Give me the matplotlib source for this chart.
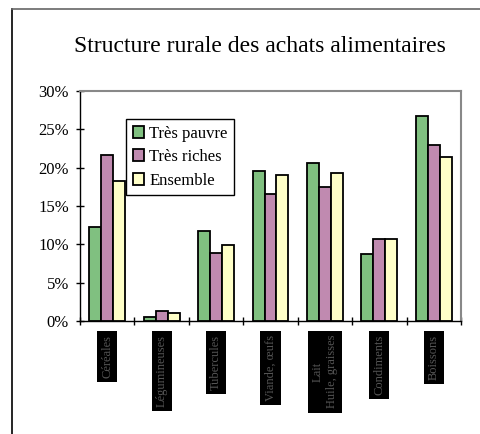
import numpy as np
import matplotlib
matplotlib.use('Agg')
import matplotlib.pyplot as plt
from matplotlib.lines import Line2D

plt.rcParams['font.family'] = ['Liberation Serif', 'DejaVu Serif']

categories = ['Céréales', 'Légumineuses', 'Tubercules', 'Viande, œufs',
              'Lait\nHuile, graisses', 'Condiments', 'Boissons']
tres_pauvre = [12.3, 0.5, 11.7, 19.6, 20.6, 8.7, 26.8]
tres_riches = [21.6, 1.3, 8.9, 16.6, 17.5, 10.7, 22.9]
ensemble = [18.2, 1.0, 9.9, 19.0, 19.3, 10.7, 21.4]
series = ['Très pauvre', 'Très riches', 'Ensemble']
colors = ['#80C080', '#C08AB0', '#FFFFC8']

fig = plt.figure(figsize=(4.81, 4.34), dpi=100)
ax = fig.add_axes([80/481, 1-321/434, 381/481, 230/434])

x = np.arange(len(categories))
w = 0.22
for i, (vals, lab, c) in enumerate(zip([tres_pauvre, tres_riches, ensemble], series, colors)):
    ax.bar(x + (i-1)*w, vals, w, color=c, edgecolor='black', linewidth=1.3, label=lab, zorder=3)

ax.set_xlim(-0.5, len(categories)-0.5)
ax.set_ylim(0, 30)
ax.set_yticks(np.arange(0, 31, 5))
ax.set_yticklabels([f'{v}%' for v in range(0, 31, 5)], fontsize=12)
ax.set_xticks(np.arange(len(categories)+1) - 0.5)
ax.set_xticklabels([])
ax.set_xticks(x, minor=True)
ax.set_xticklabels(categories, minor=True, rotation=90, fontsize=9, color='#555555',
                   va='top', ha='center', multialignment='center',
                   bbox=dict(facecolor='black', edgecolor='none', pad=3))
ax.tick_params(axis='x', which='minor', length=0, pad=10)
ax.tick_params(axis='both', which='major', direction='inout', length=6, width=1, color='black')
ax.tick_params(axis='y', pad=5)

for s in ['top', 'right']:
    ax.spines[s].set_color('#888888')
    ax.spines[s].set_linewidth(1.5)
for s in ['left', 'bottom']:
    ax.spines[s].set_color('black')
    ax.spines[s].set_linewidth(1)

leg = ax.legend(loc='upper left', bbox_to_anchor=(46/381, 202/230), fontsize=12,
                frameon=True, fancybox=False, edgecolor='black', framealpha=1,
                handlelength=0.7, handleheight=0.7, handletextpad=0.3,
                borderpad=0.4, labelspacing=0.45, borderaxespad=0)
leg.get_frame().set_linewidth(1)
for h in leg.legend_handles:
    h.set_linewidth(1.3)

fig.text(260/481, 1-47/434, 'Structure rurale des achats alimentaires',
         ha='center', va='center', fontsize=17)

fig.add_artist(Line2D([12/481, 12/481], [0, 1-9/434], transform=fig.transFigure,
                      color='black', linewidth=1.2))
fig.add_artist(Line2D([12/481, 1], [1-9/434, 1-9/434], transform=fig.transFigure,
                      color='#666666', linewidth=1.2))

fig.savefig('out.png', dpi=100)
